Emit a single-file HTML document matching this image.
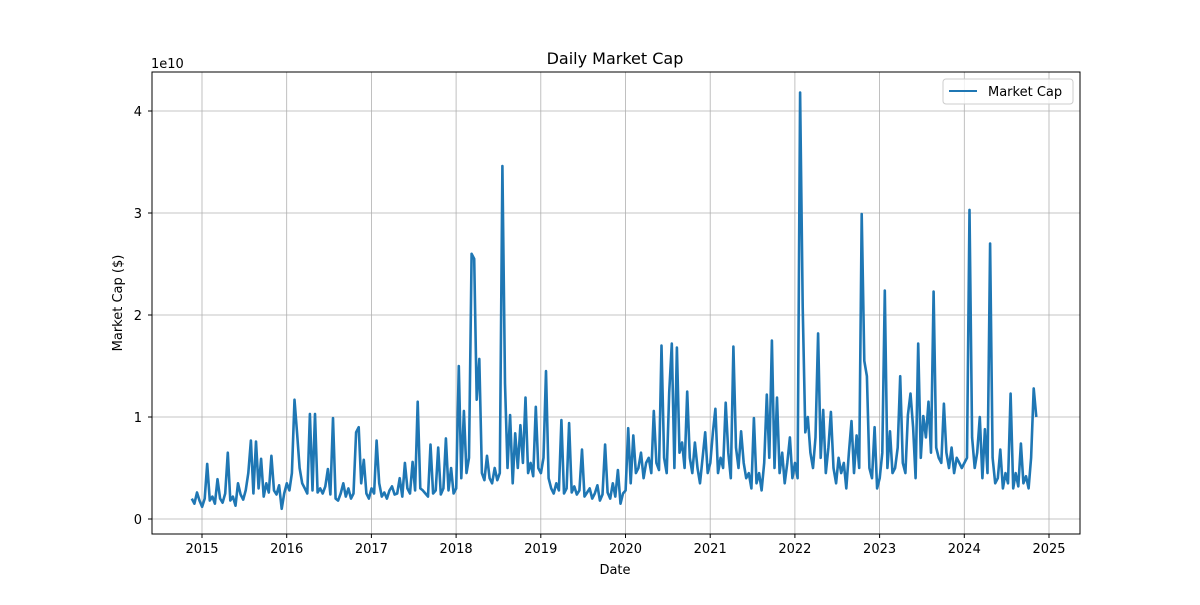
<!DOCTYPE html>
<html><head><meta charset="utf-8"><style>
body{margin:0;background:#fff;}
svg text{font-family:"DejaVu Sans","Liberation Sans",sans-serif;fill:#000;}
</style></head><body>
<svg id="chart" width="1200" height="600" xmlns="http://www.w3.org/2000/svg">
<rect width="1200" height="600" fill="#fff"/>
<g id="grid"></g>
<g id="series"></g>
<rect x="152" y="72" width="928" height="462" fill="none" stroke="#000" stroke-width="1"/>
<g id="xticks"></g>
<g id="yticks"></g>
<text x="615" y="64" font-size="16" text-anchor="middle">Daily Market Cap</text>
<text x="615" y="574" font-size="13" text-anchor="middle">Date</text>
<text x="122" y="303" font-size="13" text-anchor="middle" transform="rotate(-90 122 303)">Market Cap ($)</text>
<text x="151" y="68" font-size="13">1e10</text>
<g>
<rect x="943" y="79" width="130" height="25" rx="3" fill="#fff" fill-opacity="0.8" stroke="#ccc"/>
<line x1="949" y1="91" x2="977" y2="91" stroke="#1f77b4" stroke-width="2"/>
<text x="988" y="96" font-size="13">Market Cap</text>
</g>
</svg>
<script>
const startYear = 2014.88;
const stepsPerYear = 33;
const xTicks = [2015,2016,2017,2018,2019,2020,2021,2022,2023,2024,2025];
const yTicks = [0,1,2,3,4];
const valuesPre = [2.0,1.5,2.6,1.8];
const values2015 = [1.2,2.0,5.4,1.8,2.2,1.5,3.9,2.0,1.6,2.5,6.5,1.8,2.2,1.3,3.5,2.4,1.9,2.8,4.5,7.7,2.5,7.6,3.0,5.9,2.2,3.5,2.6,6.2,2.8,2.4,3.3,1.0,2.5];
const values2016 = [3.5,2.8,4.5,11.7,8.4,5.0,3.5,3.0,2.5,10.3,2.8,10.3,2.6,3.0,2.5,3.2,4.9,2.4,9.9,2.0,1.8,2.5,3.5,2.2,3.0,2.0,2.5,8.5,9.0,3.5,5.8,2.5,2.0];
const values2017 = [3.0,2.5,7.7,3.5,2.2,2.6,2.0,2.8,3.2,2.4,2.5,4.0,2.2,5.5,3.0,2.5,5.6,2.8,11.5,3.0,2.8,2.5,2.2,7.3,2.5,2.8,7.0,2.4,3.0,7.9,2.8,5.0,2.5];
const values2018 = [3.0,15.0,4.0,10.6,4.5,6.0,26.0,25.5,11.7,15.7,4.5,3.8,6.2,4.0,3.5,5.0,3.8,4.5,34.6,13.3,5.0,10.2,3.5,8.4,5.0,9.2,5.5,11.9,4.5,5.5,4.2,11.0,5.0];
const values2019 = [4.5,6.0,14.5,4.0,3.0,2.5,3.5,2.8,9.7,2.5,3.0,9.4,2.6,3.2,2.4,2.8,6.8,2.2,2.6,3.0,2.0,2.5,3.3,1.8,2.4,7.3,2.6,2.0,3.5,2.2,4.8,1.5,2.5];
const values2020 = [2.8,8.9,3.5,8.2,4.5,5.0,6.5,4.0,5.5,6.0,4.5,10.6,5.5,4.8,17.0,6.0,4.5,12.4,17.2,5.0,16.8,6.5,7.5,5.0,12.5,6.0,4.5,7.5,5.0,3.5,6.0,8.5,4.5];
const values2021 = [5.5,8.5,10.8,4.5,6.0,5.0,11.4,6.5,4.0,16.9,7.0,5.0,8.6,5.5,4.0,4.5,3.0,9.9,3.5,4.5,2.8,5.5,12.2,6.0,17.5,5.0,11.9,4.5,6.5,3.5,5.5,8.0,4.0];
const values2022 = [5.5,4.0,41.8,20.8,8.5,10.0,6.5,5.0,8.0,18.2,6.0,10.7,4.5,7.0,10.5,5.0,3.5,6.0,4.5,5.5,3.0,6.5,9.6,4.5,8.2,5.0,29.9,15.5,14.0,5.0,4.0,9.0,3.0];
const values2023 = [4.0,6.5,22.4,5.0,8.6,4.5,5.0,7.0,14.0,5.5,4.5,10.2,12.3,9.0,4.0,17.2,6.0,10.1,8.0,11.5,6.5,22.3,7.0,6.0,5.5,11.3,6.5,5.0,7.0,4.5,6.0,5.5,5.0];
const values2024 = [5.5,6.0,30.3,8.0,5.0,6.5,10.0,4.0,8.8,4.5,27.0,6.0,3.5,4.0,6.8,3.0,4.5,3.5,12.3,3.0,4.5,3.2,7.4,3.5,4.2,3.0,6.0,12.8,10.0];

const values = [].concat(valuesPre,values2015,values2016,values2017,values2018,values2019,values2020,values2021,values2022,values2023,values2024);
const NS = "http://www.w3.org/2000/svg";
function xScale(yr){ return 202 + (yr - 2015) * 84.7; }
function yScale(b){ return 519 - b * 10.2; }

const grid = document.getElementById('grid');
const xt = document.getElementById('xticks');
xTicks.forEach(t => {
  const x = xScale(t);
  const gl = document.createElementNS(NS,'line');
  
  
  gl.setAttribute('x1',x); gl.setAttribute('x2',x); gl.setAttribute('y1',72); gl.setAttribute('y2',534);
  gl.setAttribute('stroke','#b0b0b0'); gl.setAttribute('stroke-width','0.8');
  grid.appendChild(gl);
  const tk = document.createElementNS(NS,'line');
  
  
  tk.setAttribute('x1',x); tk.setAttribute('x2',x); tk.setAttribute('y1',534); tk.setAttribute('y2',538);
  tk.setAttribute('stroke','#000');
  xt.appendChild(tk);
  const tx = document.createElementNS(NS,'text');
  
  
  tx.setAttribute('x',x); tx.setAttribute('y',553); tx.setAttribute('font-size','13'); tx.setAttribute('text-anchor','middle');
  tx.textContent = t;
  xt.appendChild(tx);
});
const yt = document.getElementById('yticks');
yTicks.forEach(t => {
  const y = yScale(t*10);
  const gl = document.createElementNS(NS,'line');
  
  
  gl.setAttribute('x1',152); gl.setAttribute('x2',1080); gl.setAttribute('y1',y); gl.setAttribute('y2',y);
  gl.setAttribute('stroke','#b0b0b0'); gl.setAttribute('stroke-width','0.8');
  grid.appendChild(gl);
  const tk = document.createElementNS(NS,'line');
  
  
  tk.setAttribute('x1',148); tk.setAttribute('x2',152); tk.setAttribute('y1',y); tk.setAttribute('y2',y);
  tk.setAttribute('stroke','#000');
  yt.appendChild(tk);
  const tx = document.createElementNS(NS,'text');
  
  
  tx.setAttribute('x',142); tx.setAttribute('y',y+5); tx.setAttribute('font-size','13'); tx.setAttribute('text-anchor','end');
  tx.textContent = t;
  yt.appendChild(tx);
});
let d = '';
values.forEach((v,i) => {
  const x = xScale(startYear + i/stepsPerYear);
  d += (i ? 'L' : 'M') + x.toFixed(1) + ' ' + yScale(v).toFixed(1);
});
const path = document.createElementNS(NS,'path');


path.setAttribute('d', d);
path.setAttribute('fill','none'); path.setAttribute('stroke','#1f77b4'); path.setAttribute('stroke-width','2.6'); path.setAttribute('stroke-linejoin','round');
document.getElementById('series').appendChild(path);
</script>
</body></html>
